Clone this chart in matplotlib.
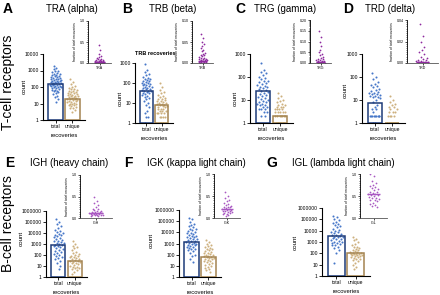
import numpy as np
import matplotlib
matplotlib.use('Agg')
from matplotlib import pyplot as plt
from matplotlib.ticker import FixedLocator, NullLocator, AutoMinorLocator

plt.rcParams['font.family'] = ['Liberation Sans', 'DejaVu Sans']

# ---- data ----
names = ['TRA', 'TRB', 'TRG', 'TRD', 'IGH', 'IGK', 'IGL']
titles = ['TRA (alpha)', 'TRB (beta)', 'TRG (gamma)', 'TRD (delta)',
          'IGH (heavy chain)', 'IGK (kappa light chain)', 'IGL (lambda light chain)']
letters = ['A', 'B', 'C', 'D', 'E', 'F', 'G']

total_bar = [160, 40, 25, 7.5, 900, 1300, 3500]
unique_bar = [20, 8, 2, 1, 30, 60, 100]
frac_line = [0.02, 0.004, 0.005, 0.001, 0.12, 0.2, 0.55]

tra_total = [2000, 1500, 1150, 1000, 880, 790, 700, 640, 590, 530, 500, 470, 440, 410,
             390, 370, 340, 320, 300, 285, 270, 255, 245, 235, 220, 210, 200, 195, 180,
             172, 165, 160, 152, 148, 140, 133, 128, 122, 118, 110, 105, 100, 96, 88, 82,
             78, 70, 66, 60, 54, 48, 42, 36, 30, 24, 18, 12]
tra_unique = [300, 210, 150, 118, 100, 88, 80, 72, 64, 60, 54, 50, 47, 45, 41, 40, 37,
              35, 32, 30, 28, 27, 25, 24, 22, 21, 20, 19, 18, 17, 16, 15, 14, 13, 12, 11,
              10, 10, 9, 8, 8, 7, 6, 5, 5, 4, 3]
tra_frac = [0.42, 0.3, 0.22, 0.17, 0.14, 0.12, 0.1, 0.09, 0.08, 0.07, 0.06, 0.05, 0.05,
            0.04, 0.04, 0.03, 0.03, 0.03, 0.02, 0.02, 0.02, 0.02, 0.015, 0.015, 0.01,
            0.01, 0.01, 0.01, 0.008, 0.006, 0.005, 0.004, 0.003, 0.002]

trb_total = [900, 450, 350, 280, 240, 200, 180, 160, 150, 140, 130, 120, 110, 100, 95,
             90, 85, 80, 75, 70, 65, 60, 58, 55, 50, 48, 45, 42, 40, 38, 35, 32, 30, 28,
             25, 22, 20, 18, 15, 12, 10, 8, 6, 4, 3, 2, 2, 1]
trb_unique = [100, 60, 45, 35, 30, 25, 22, 20, 18, 16, 15, 14, 13, 12, 11, 10, 10, 9, 9,
              8, 8, 7, 7, 6, 6, 5, 5, 5, 4, 4, 4, 3, 3, 3, 3, 2, 2, 2, 2, 1, 1, 1]
trb_frac = [0.07, 0.06, 0.05, 0.045, 0.04, 0.035, 0.03, 0.028, 0.025, 0.022, 0.02,
            0.018, 0.016, 0.015, 0.013, 0.012, 0.01, 0.01, 0.009, 0.008, 0.007, 0.006,
            0.005, 0.005, 0.004, 0.004, 0.003, 0.003, 0.002, 0.002, 0.001, 0.001]

trg_total = [400, 200, 170, 150, 120, 100, 90, 80, 70, 65, 60, 55, 50, 45, 40, 38, 35,
             32, 30, 28, 25, 22, 20, 18, 16, 15, 14, 12, 11, 10, 9, 8, 8, 7, 7, 6, 6, 5,
             5, 4, 4, 4, 3, 3, 2, 2]
trg_unique = [20, 15, 12, 10, 9, 8, 7, 6, 6, 5, 5, 5, 4, 4, 4, 4, 3, 3, 3, 3, 3, 2, 2, 2,
              2, 2, 2, 2, 1, 1, 1, 1, 1, 1, 1, 1, 1]
trg_frac = [0.15, 0.12, 0.1, 0.08, 0.06, 0.05, 0.04, 0.035, 0.03, 0.025, 0.02, 0.018,
            0.015, 0.012, 0.01, 0.01, 0.008, 0.006, 0.005, 0.004, 0.003, 0.002, 0.002,
            0.001]

trd_total = [150, 100, 80, 60, 50, 45, 40, 35, 30, 28, 25, 22, 20, 20, 18, 18, 16, 15,
             15, 14, 13, 12, 10, 8, 6, 5, 4, 4, 3, 2, 2, 2, 2, 2, 2, 2, 2, 2, 1, 1]
trd_unique = [15, 10, 8, 7, 6, 5, 5, 4, 4, 3, 3, 3, 2, 2, 2, 2, 1, 1, 1, 1, 1, 1, 1, 1,
              1, 1, 1, 1]
trd_frac = [0.036, 0.025, 0.02, 0.015, 0.012, 0.01, 0.008, 0.006, 0.005, 0.004, 0.003,
            0.003, 0.002, 0.002, 0.001, 0.001, 0.001, 0.0005, 0.0005]

igh_total = [200000, 100000, 60000, 40000, 30000, 20000, 15000, 12000, 10000, 8000,
             7000, 6000, 5000, 4000, 3500, 3000, 2500, 2000, 1800, 1500, 1300, 1200,
             1000, 900, 800, 700, 600, 500, 400, 350, 300, 250, 200, 150, 120, 100, 80,
             60, 50, 40, 30, 20, 10, 5]
igh_unique = [2000, 1000, 700, 500, 400, 300, 200, 150, 120, 100, 90, 80, 70, 60, 50,
              45, 40, 35, 30, 28, 25, 22, 20, 18, 15, 12, 10, 9, 8, 7, 6, 5, 4, 3, 2]
igh_frac = [0.5, 0.4, 0.35, 0.3, 0.25, 0.22, 0.2, 0.18, 0.17, 0.16, 0.15, 0.14, 0.13,
            0.12, 0.12, 0.11, 0.11, 0.1, 0.1, 0.09, 0.09, 0.08, 0.08, 0.07, 0.07, 0.06,
            0.05, 0.04]

igk_total = [200000, 150000, 90000, 60000, 45000, 35000, 28000, 22000, 18000, 15000,
             12000, 10000, 9000, 8000, 7000, 6000, 5000, 4500, 4000, 3500, 3000, 2600,
             2300, 2000, 1800, 1600, 1400, 1200, 1100, 1000, 900, 800, 700, 600, 500,
             450, 400, 350, 300, 250, 200, 150, 100, 70, 40, 20]
igk_unique = [2000, 1500, 1000, 800, 600, 500, 400, 350, 300, 250, 200, 180, 150, 130,
              110, 100, 90, 80, 70, 65, 60, 55, 50, 45, 40, 35, 30, 25, 20, 18, 15, 12,
              10, 8, 6, 5, 4, 3]
igk_frac = [0.6, 0.5, 0.45, 0.4, 0.38, 0.35, 0.32, 0.3, 0.28, 0.26, 0.25, 0.24, 0.22,
            0.21, 0.2, 0.2, 0.19, 0.18, 0.17, 0.16, 0.15, 0.14, 0.13, 0.12, 0.11, 0.1,
            0.08, 0.06, 0.05]

igl_total = [200000, 150000, 100000, 80000, 60000, 50000, 40000, 30000, 25000, 20000,
             15000, 12000, 10000, 8000, 7000, 6000, 5000, 4500, 4000, 3500, 3000, 2800,
             2500, 2200, 2000, 1800, 1500, 1300, 1100, 1000, 900, 800, 700, 600, 500,
             400, 300, 200, 100, 15]
igl_unique = [3000, 2000, 1500, 1000, 700, 500, 400, 350, 300, 250, 200, 180, 160, 140,
              120, 110, 100, 95, 90, 85, 80, 75, 70, 65, 60, 55, 50, 45, 40, 35, 30, 25,
              20, 15, 10, 6, 4]
igl_frac = [1.0, 0.95, 0.85, 0.8, 0.75, 0.72, 0.7, 0.68, 0.65, 0.63, 0.6, 0.58, 0.56,
            0.55, 0.54, 0.53, 0.52, 0.5, 0.48, 0.46, 0.45, 0.43, 0.42, 0.4, 0.38, 0.35,
            0.32, 0.3, 0.28, 0.25]

totals = [tra_total, trb_total, trg_total, trd_total, igh_total, igk_total, igl_total]
uniques = [tra_unique, trb_unique, trg_unique, trd_unique, igh_unique, igk_unique, igl_unique]
fracs = [tra_frac, trb_frac, trg_frac, trd_frac, igh_frac, igk_frac, igl_frac]
count_max = [1e4, 1e3, 1e3, 1e3, 1e6, 1e6, 1e6]
frac_max = [1.0, 0.10, 0.20, 0.04, 1.0, 1.0, 1.0]
frac_step = [0.5, 0.05, 0.05, 0.02, 0.5, 0.5, 0.5]

# ---- layout (pixels, origin top-left) ----
W, H = 440, 295
main_box = [(43, 54, 85, 120), (135, 63, 173, 123), (250, 54, 293, 123), (362, 54, 405, 123),
            (46, 211, 87, 277), (179, 210, 221, 277), (322, 208, 370, 276)]
inset_box = [(88, 21, 111, 63), (192, 21, 213, 63), (310, 20, 331, 63), (407, 20, 438, 63),
             (80, 175, 112, 218), (214, 174, 240, 218), (360, 174, 387, 218)]
letter_xy = [(8, 9), (127, 9), (240, 9), (348, 9), (10, 163), (128, 163), (272, 163)]
title_xy = [(72, 9), (173, 9), (285, 9), (390, 9), (69, 163), (196, 163), (343, 163)]
count_xy = [(24, 86), (120, 98), (235, 98), (345, 90), (21, 238), (151, 240), (295, 242)]

fig = plt.figure(figsize=(4.4, 2.95), dpi=100)


def box(b):
    x0, y0, x1, y1 = b
    return [x0 / W, 1 - y1 / H, (x1 - x0) / W, (y1 - y0) / H]


def ftext(x, y, s, **kw):
    fig.text(x / W, 1 - y / H, s, **kw)


def spread(vals, width, band):
    v = np.asarray(vals, dtype=float)
    dens = np.array([np.sum(np.abs(v - vi) < band) for vi in v])
    w = width * np.sqrt(dens / dens.max())
    phase = (np.arange(len(v)) * 0.618034) % 1.0 * 2 - 1
    return phase * w


blue_pt, navy = '#4677c8', '#1d3a78'
tan_pt, tan_edge = '#cdb07e', '#a3834f'

for i in range(7):
    ax = fig.add_axes(box(main_box[i]))
    ax.set_yscale('log')
    ax.set_ylim(1, count_max[i])
    ax.set_xlim(-0.75, 1.75)
    for side in ['top', 'right']:
        ax.spines[side].set_visible(False)
    for side in ['left', 'bottom']:
        ax.spines[side].set_linewidth(0.8)
    decades = [10 ** k for k in range(int(np.log10(count_max[i])) + 1)]
    ax.yaxis.set_major_locator(FixedLocator(decades))
    ax.yaxis.set_minor_locator(NullLocator())
    ax.set_yticklabels([str(d) for d in decades])
    ax.set_xticks([0, 1])
    ax.set_xticklabels(['total', 'unique'])
    ax.tick_params(labelsize=3.6, length=2, width=0.6, pad=1)

    t = np.log10(totals[i])
    u = np.log10(uniques[i])
    ax.scatter(0 + spread(t, 0.36, 0.2), totals[i], s=2.2, color=blue_pt, lw=0, zorder=2)
    ax.scatter(1 + spread(u, 0.36, 0.2), uniques[i], s=2.2, color=tan_pt, lw=0, zorder=2)
    ax.bar([0, 1], [total_bar[i] - 1, unique_bar[i] - 1], bottom=1, width=0.86,
           facecolor='none', edgecolor=[navy, tan_edge], linewidth=1.1, zorder=3)
    ax.set_xlabel('recoveries', fontsize=4.2, labelpad=3)

    # inset: fraction of total recoveries
    ia = fig.add_axes(box(inset_box[i]))
    ia.set_ylim(0, frac_max[i])
    ia.set_xlim(-1, 1)
    for side in ['top', 'right']:
        ia.spines[side].set_visible(False)
    for side in ['left', 'bottom']:
        ia.spines[side].set_linewidth(0.6)
    ia.spines['bottom'].set_color('#555555')
    yt = np.arange(0, frac_max[i] + 1e-9, frac_step[i])
    ia.set_yticks(yt)
    fmt = '%.1f' if frac_step[i] >= 0.5 else '%.2f'
    ia.set_yticklabels([fmt % v for v in yt])
    ia.yaxis.set_minor_locator(AutoMinorLocator(10))
    ia.tick_params(axis='y', which='minor', length=1, width=0.4)
    ia.set_xticks([0])
    ia.set_xticklabels([names[i]])
    ia.tick_params(labelsize=2.6, length=1.5, width=0.5, pad=1)
    col = '#8e2a9e' if i < 4 else '#a958c2'
    f = np.asarray(fracs[i])
    ia.scatter(spread(f, 0.45, frac_max[i] * 0.06), f, s=1.6, color=col, lw=0, zorder=2)
    ia.hlines(frac_line[i], -0.45, 0.45, color=col, lw=1.0, zorder=3)
    ia.set_ylabel('fraction of total recoveries', fontsize=2.4, labelpad=1.5)

    ftext(*letter_xy[i], letters[i], fontsize=10, fontweight='bold', ha='center', va='center')
    ftext(*title_xy[i], titles[i], fontsize=7, ha='center', va='center')
    ftext(*count_xy[i], 'count', fontsize=4.5, rotation=90, ha='center', va='center')

ftext(155, 53, 'TRB recoveries', fontsize=4, fontweight='bold', ha='center', va='center')
ftext(8, 82, 'T-cell receptors', fontsize=10, rotation=90, ha='center', va='center')
ftext(8, 224, 'B-cell receptors', fontsize=10, rotation=90, ha='center', va='center')

fig.savefig('out.png', dpi=100)
